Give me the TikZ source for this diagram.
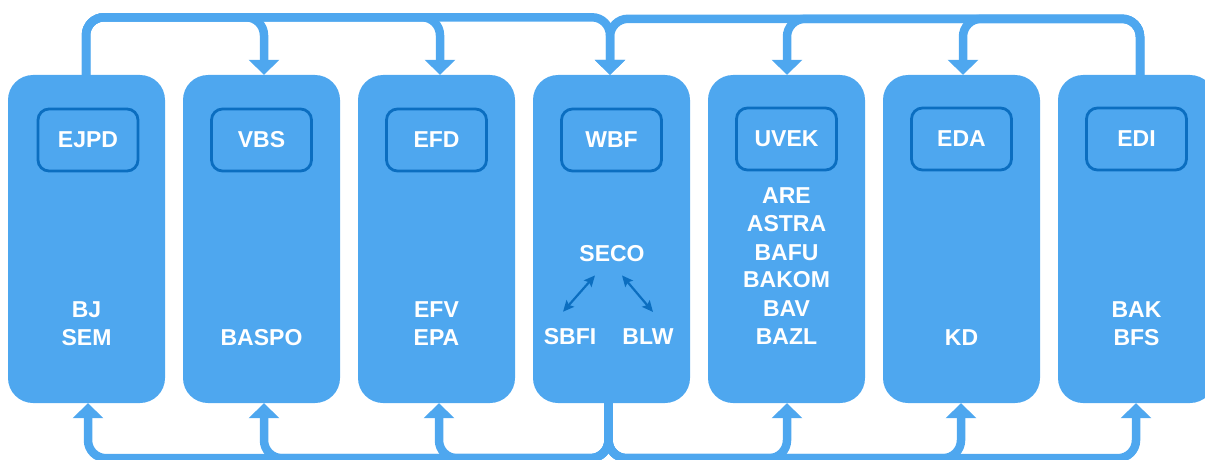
\documentclass[tikz,border=0pt]{standalone}
\usepackage{fontspec}
\setmainfont{Liberation Sans}
\usetikzlibrary{arrows.meta,calc}
\definecolor{boxblue}{HTML}{4EA7EF}
\definecolor{darkblue}{HTML}{0B6EC0}
\tikzset{
  bigbox/.style={draw=none,fill=boxblue,rounded corners=25pt,minimum width=157pt,minimum height=328pt,inner sep=0pt},
  minibox/.style={draw=darkblue,line width=2.8pt,fill=boxblue,rounded corners=11pt,minimum width=100pt,minimum height=62pt,inner sep=0pt,text=white,font=\fontsize{23}{28}\selectfont\bfseries},
  lbl/.style={text=white,font=\fontsize{23}{28}\selectfont\bfseries,inner sep=0pt,anchor=base},
  conn/.style={draw=boxblue,line width=8.5pt,rounded corners=18pt,-{Triangle[width=30pt,length=15pt]}},
  darr/.style={draw=darkblue,line width=2.2pt,{Stealth[length=11pt,width=10pt,inset=2pt]}-{Stealth[length=11pt,width=10pt,inset=2pt]}}
}
\begin{document}
\begin{tikzpicture}[x=1pt,y=1pt]
\useasboundingbox (0,0) rectangle (1205,459);
\clip (0,0) rectangle (1205,459);
% big boxes
\node[bigbox] (b1) at (86.5,220) {};
\node[bigbox] (b2) at (261.5,220) {};
\node[bigbox] (b3) at (436.5,220) {};
\node[bigbox] (b4) at (611.5,220) {};
\node[bigbox] (b5) at (786.5,220) {};
\node[bigbox] (b6) at (961.5,220) {};
\node[bigbox] (b7) at (1136.5,220) {};
% department boxes
\node[minibox] (ejpd) at (88,319) {EJPD};
\node[minibox] (vbs) at (261.5,319) {VBS};
\node[minibox] (efd) at (436.5,319) {EFD};
\node[minibox] (wbf) at (611.5,319) {WBF};
\node[minibox] (uvek) at (786.5,320) {UVEK};
\node[minibox] (eda) at (961.5,320) {EDA};
\node[minibox] (edi) at (1136.5,320) {EDI};
% offices
\node[lbl] (bj) at (86.5,142) {BJ};
\node[lbl] (sem) at (86.5,114) {SEM};
\node[lbl] (baspo) at (261.5,114) {BASPO};
\node[lbl] (efv) at (436.5,142) {EFV};
\node[lbl] (epa) at (436.5,114) {EPA};
\node[lbl] (seco) at (612,198) {SECO};
\node[lbl] (sbfi) at (570,115) {SBFI};
\node[lbl] (blw) at (648,115) {BLW};
\node[lbl] (are) at (786.5,256) {ARE};
\node[lbl] (astra) at (786.5,227.5) {ASTRA};
\node[lbl] (bafu) at (786.5,199) {BAFU};
\node[lbl] (bakom) at (786.5,171.5) {BAKOM};
\node[lbl] (bav) at (786.5,143) {BAV};
\node[lbl] (bazl) at (786.5,115) {BAZL};
\node[lbl] (kd) at (961.5,114) {KD};
\node[lbl] (bak) at (1136.5,142) {BAK};
\node[lbl] (bfs) at (1136.5,114) {BFS};
% SECO arrows
\draw[darr] ($(seco.south)+(-17,-14)$) -- ($(sbfi.north)+(-7,16)$);
\draw[darr] ($(seco.south)+(10,-14)$) -- ($(blw.north)+(5,16)$);
% top connectors, left group
\draw[conn] ([xshift=-0.5pt]b1.north) -- ++(0,57.5) -| ([xshift=2.5pt]b2.north);
\draw[conn] ([xshift=-0.5pt]b1.north) -- ++(0,57.5) -| ([xshift=3.5pt]b3.north);
\draw[conn] ([xshift=-0.5pt]b1.north) -- ++(0,57.5) -| ([xshift=-1.5pt]b4.north);
% top connectors, right group
\draw[conn] ([xshift=3.5pt]b7.north) -- ++(0,56) -| ([xshift=1.5pt]b6.north);
\draw[conn] ([xshift=3.5pt]b7.north) -- ++(0,56) -| ([xshift=0.5pt]b5.north);
\draw[conn] ([xshift=3.5pt]b7.north) -- ++(0,56) -| ([xshift=-1.5pt]b4.north);
% bottom connectors
\draw[conn] ([xshift=-3pt]b4.south) -- ++(0,-55) -| ([xshift=1.5pt]b1.south);
\draw[conn] ([xshift=-3pt]b4.south) -- ++(0,-55) -| ([xshift=2.5pt]b2.south);
\draw[conn] ([xshift=-3pt]b4.south) -- ++(0,-55) -| ([xshift=2.5pt]b3.south);
\draw[conn] ([xshift=-3pt]b4.south) -- ++(0,-55) -| ([xshift=0.5pt]b5.south);
\draw[conn] ([xshift=-3pt]b4.south) -- ++(0,-55) -| ([xshift=-0.5pt]b6.south);
\draw[conn] ([xshift=-3pt]b4.south) -- ++(0,-55) -| ([xshift=-0.5pt]b7.south);
\end{tikzpicture}
\end{document}
